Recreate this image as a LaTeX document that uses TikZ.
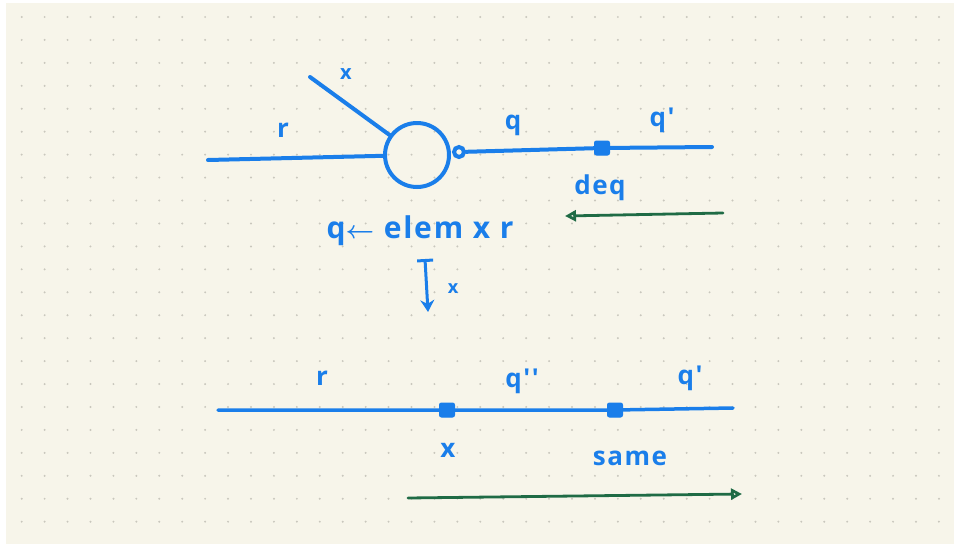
\documentclass[tikz,border=0pt]{standalone}
\usepackage{amsmath}
\usepackage{fontspec}
\setmainfont{Open Sans}
\newfontfamily\inkfont[LetterSpace=6]{Open Sans}
\usetikzlibrary{arrows.meta}
\definecolor{inkblue}{HTML}{1A7EEA}
\definecolor{inkgreen}{HTML}{1F6B45}
\definecolor{paper}{HTML}{F7F5EA}
\definecolor{dotgrey}{HTML}{C9C7BD}
\newcommand{\tick}{{\char"27}}
\tikzset{
  ink-line/.style={draw=inkblue, line width=4pt, line cap=round},
  ink-flow/.style={draw=inkgreen, line width=2.8pt, line cap=round},
  ink-label/.style={text=inkblue, font=\inkfont\bfseries\fontsize{26}{30}\selectfont, inner sep=0pt},
  ink-join/.style={circle, draw=inkblue, line width=4pt, minimum size=64pt, inner sep=0pt},
  ink-port/.style={circle, draw=inkblue, line width=4pt, minimum size=10pt, inner sep=0pt},
  ink-stop/.style={rectangle, fill=inkblue, draw=inkblue, line width=1pt, rounded corners=2pt,
    minimum width=15pt, minimum height=14pt, inner sep=0pt}
}

\begin{document}
\begin{tikzpicture}[x=1pt, y=-1pt, >=Latex]
  % paper
  \useasboundingbox (0,0) rectangle (954,544);
  \fill[white] (0,0) rectangle (954,544);
  \fill[paper] (6,3) rectangle (954,544);
  \foreach \i in {0,...,40}
    \foreach \j in {0,...,22}
      \fill[dotgrey] (21.7+22.93*\i, 17+22.94*\j) circle (1.1pt);

  % Before: q <- elem x r
  \coordinate (r-in) at (208,160);
  \coordinate (x-in) at (310,77);
  \node[ink-join] (elem) at (417,155) {};
  \node[ink-port] (elem-out) at (459,152) {};
  \node[ink-stop] (deq) at (602,148) {};
  \coordinate (q-out) at (712,147);
  \draw[ink-line] (r-in) -- (elem);
  \draw[ink-line] (x-in) -- (elem);
  \draw[ink-line] (elem-out) -- (deq) -- (q-out);

  \node[ink-label, font=\inkfont\bfseries\fontsize{20}{24}\selectfont] (lbl-x) at (346,74) {x};
  \node[ink-label] (lbl-r) at (283,130) {r};
  \node[ink-label] (lbl-q) at (513,125) {q};
  \node[ink-label] (lbl-q1) at (662,120) {q\tick};
  \node[ink-label] (lbl-deq) at (600,188) {deq};
  \node[ink-label, font=\inkfont\bfseries\fontsize{30}{34}\selectfont] (lbl-elem) at (420,231)
    {q$\boldsymbol{\leftarrow}$ elem x r};

  % green flow, right to left
  \coordinate (flow-a) at (723,213);
  \coordinate (flow-b) at (565,216);
  \draw[ink-flow, -{Triangle[open, length=11pt, width=11pt]}] (flow-a) -- (flow-b);

  % rewrite step
  \coordinate (step-top) at (425,259);
  \coordinate (step-bot) at (428,312);
  \draw[ink-line, line width=3pt, {Bar[width=16pt]}-{Stealth[length=12pt, width=14pt]}] (step-top) -- (step-bot);
  \node[ink-label, font=\inkfont\bfseries\fontsize{18}{20}\selectfont] (lbl-step) at (453,289) {x};

  % After: r, x, q'', same, q'
  \coordinate (r-in2) at (218,410);
  \node[ink-stop] (push-x) at (447,410) {};
  \node[ink-stop] (same) at (615,410) {};
  \coordinate (q-out2) at (733,408);
  \draw[ink-line, line width=3.5pt] (r-in2) -- (push-x) -- (same) -- (q-out2);

  \node[ink-label] (lbl-r2) at (322,378) {r};
  \node[ink-label] (lbl-q2) at (522,381) {q\tick\tick};
  \node[ink-label] (lbl-q3) at (690,378) {q\tick};
  \node[ink-label] (lbl-x2) at (448,450) {x};
  \node[ink-label] (lbl-same) at (630,458) {same};

  % green flow, left to right
  \coordinate (flow-c) at (408,498);
  \coordinate (flow-d) at (742,494);
  \draw[ink-flow, -{Triangle[open, length=11pt, width=11pt]}] (flow-c) -- (flow-d);
\end{tikzpicture}
\end{document}
